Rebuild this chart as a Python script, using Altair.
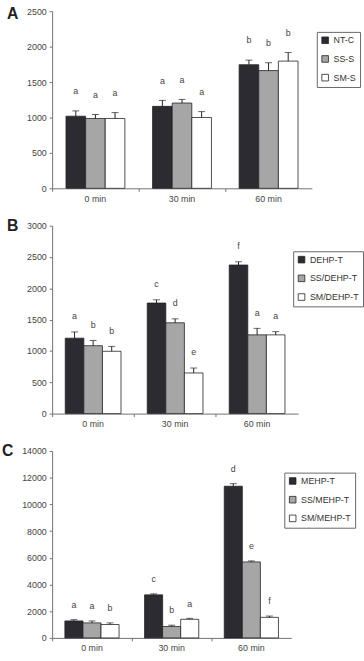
import altair as alt
import pandas as pd

FONT = "Liberation Sans"

times = ["0 min", "30 min", "60 min"]
colors = ["#2b2b31", "#a6a6a6", "#ffffff"]

# Panel A
A_series = ["NT-C", "SS-S", "SM-S"]
A_mean = [[1018, 1157, 1745], [986, 1204, 1662], [986, 1000, 1796]]
A_err = [[75, 84, 65], [56, 51, 111], [83, 83, 121]]
A_sig = [["a", "a", "b"], ["a", "a", "b"], ["a", "a", "b"]]

# Panel B
B_series = ["DEHP-T", "SS/DEHP-T", "SM/DEHP-T"]
B_mean = [[1204, 1765, 2372], [1084, 1450, 1257], [995, 649, 1257]]
B_err = [[100, 52, 52], [84, 63, 104], [78, 79, 52]]
B_sig = [["a", "c", "f"], ["b", "d", "a"], ["b", "e", "a"]]

# Panel C
C_series = ["MEHP-T", "SS/MEHP-T", "SM/MEHP-T"]
C_mean = [[1270, 3225, 11360], [1124, 855, 5692], [1002, 1393, 1539]]
C_err = [[98, 73, 195], [146, 98, 74], [122, 73, 98]]
C_sig = [["a", "c", "d"], ["a", "b", "e"], ["b", "a", "f"]]


def panel(letter, series, means, errs, sigs, ymax, ystep, w, h,
          lx, ly, letter_x, letter_y, text_dy):
    rows = []
    for s, m, e, g in zip(series, means, errs, sigs):
        for t, mv, ev, gv in zip(times, m, e, g):
            rows.append({"time": t, "series": s, "mean": mv,
                         "top": mv + ev, "sig": gv})
    df = pd.DataFrame(rows)
    base = alt.Chart(df).encode(
        x=alt.X("time:N", sort=times, title=None,
                scale=alt.Scale(paddingInner=0.32, paddingOuter=0.16),
                axis=alt.Axis(labelAngle=0, bandPosition=-0.235, tickSize=3,
                              labelPadding=3)),
        xOffset=alt.XOffset("series:N", sort=series,
                            scale=alt.Scale(paddingInner=0, paddingOuter=0)),
    )
    y_scale = alt.Scale(domain=[0, ymax], nice=False)
    y_axis = alt.Axis(values=list(range(0, ymax + 1, ystep)), tickSize=3,
                      labelPadding=3, format="d", labelOverlap=False)
    bars = base.mark_bar(stroke="#222222", strokeWidth=0.8).encode(
        y=alt.Y("mean:Q", scale=y_scale, title=None, axis=y_axis),
        color=alt.Color("series:N", sort=series,
                        scale=alt.Scale(domain=series, range=colors),
                        legend=alt.Legend(
                            title=None, orient="none", legendX=lx, legendY=ly,
                            symbolType="square", symbolSize=45,
                            symbolStrokeColor="#222222", symbolStrokeWidth=0.8,
                            labelFontSize=9, labelFont=FONT, labelColor="#333333",
                            strokeColor="#666666", fillColor="#ffffff",
                            padding=4, rowPadding=8, labelOffset=4)),
    )
    err = base.mark_rule(color="#222222", strokeWidth=1).encode(
        y=alt.Y("mean:Q", scale=y_scale, title=None, axis=y_axis), y2="top:Q")
    cap = base.mark_tick(color="#222222", thickness=1, size=7,
                         orient="horizontal").encode(
        y=alt.Y("top:Q", scale=y_scale, title=None, axis=y_axis))
    txt = base.mark_text(fontSize=9, font=FONT, color="#444444",
                         baseline="middle", dy=text_dy).encode(
        y=alt.Y("top:Q", scale=y_scale, title=None, axis=y_axis), text="sig:N")
    lab = alt.Chart(pd.DataFrame({"t": [letter]})).mark_text(
        font=FONT, fontSize=16, fontWeight="bold", color="#222222",
        align="left", baseline="middle").encode(
        x=alt.value(letter_x), y=alt.value(letter_y), text="t:N")
    return alt.layer(bars, err, cap, txt, lab).properties(width=w, height=h)


pA = panel("A", A_series, A_mean, A_err, A_sig, 2500, 500, 264, 180,
           269, 21, -46, 3, -20)
pB = panel("B", B_series, B_mean, B_err, B_sig, 3000, 500, 250, 191,
           245, 26, -46, 0, -16)
pC = panel("C", C_series, C_mean, C_err, C_sig, 14000, 2000, 243, 190,
           236, 22, -51, 0, -15)

chart = alt.vconcat(pA, pB, pC, spacing=15).resolve_scale(
    color="independent", xOffset="independent", x="independent",
    y="independent"
).resolve_legend(color="independent").properties(
    padding={"left": 2, "top": 1, "right": 0, "bottom": 0}
).configure_view(stroke=None).configure_axis(
    domainColor="#707070", tickColor="#707070", labelColor="#444444",
    labelFont=FONT, labelFontSize=9, grid=False
)

chart.save("out.html", embed_options={"renderer": "svg", "actions": False})
